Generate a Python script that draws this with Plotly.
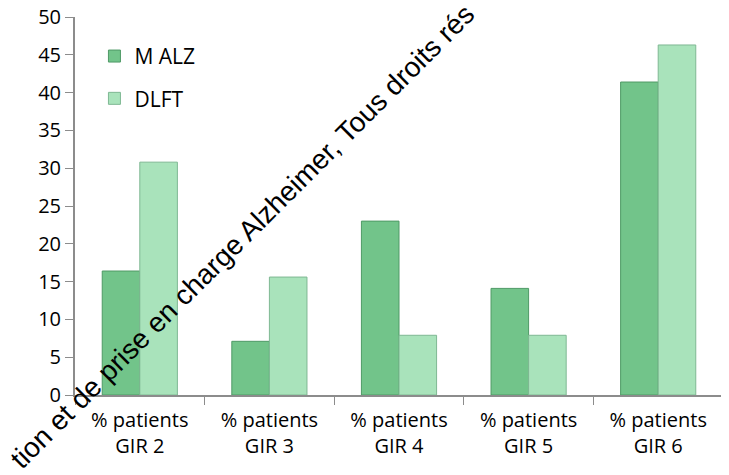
import plotly.graph_objects as go

categories = ["% patients<br>GIR 2", "% patients<br>GIR 3", "% patients<br>GIR 4",
              "% patients<br>GIR 5", "% patients<br>GIR 6"]
m_alz = [16.4, 7.1, 23.0, 14.1, 41.4]
dlft = [30.8, 15.6, 7.9, 7.9, 46.3]

fig = go.Figure()
fig.add_trace(go.Bar(x=categories, y=m_alz, name="M ALZ", legendgroup="a",
                     marker=dict(color="#72c48a", line=dict(color="#4f9a66", width=1))))
fig.add_trace(go.Bar(x=categories, y=dlft, name="DLFT", legendgroup="b",
                     marker=dict(color="#a9e3bb", line=dict(color="#7fb893", width=1))))

# diagonal watermark text
fig.add_annotation(text="tion et de prise en charge Alzheimer, Tous droits rés",
                   xref="paper", yref="paper", x=0.258, y=0.42,
                   xanchor="center", yanchor="middle", showarrow=False,
                   textangle=-45, font=dict(family="Liberation Sans", size=28, color="black"))

fig.update_layout(
    width=729, height=475,
    paper_bgcolor="white", plot_bgcolor="white",
    margin=dict(l=67, r=14, t=9, b=88),
    barmode="group", bargap=0.42, bargroupgap=0,
    font=dict(family="Open Sans", size=20, color="black"),
    legend=dict(x=0.03, y=0.95, xanchor="left", yanchor="top",
                bgcolor="rgba(0,0,0,0)", font=dict(size=21),
                traceorder="grouped", tracegroupgap=12),
    showlegend=True,
)
fig.update_xaxes(showline=True, linecolor="#8c8c8c", linewidth=2,
                 ticks="outside", tickson="boundaries", ticklen=8, tickcolor="#8c8c8c",
                 showgrid=False, ticklabelstandoff=6, automargin=False)
fig.update_yaxes(range=[0, 50], dtick=5, showline=True, linecolor="#8c8c8c", linewidth=2,
                 ticks="outside", ticklen=8, tickcolor="#8c8c8c", showgrid=False,
                 zeroline=False, ticklabeloverflow="allow", automargin=False)

fig.write_html("out.html")
